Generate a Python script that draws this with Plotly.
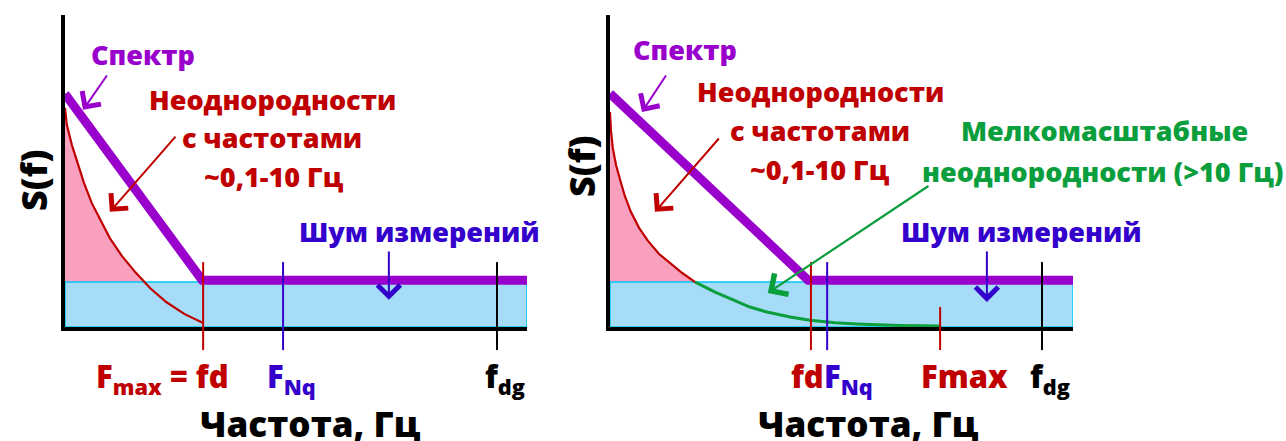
import plotly.graph_objects as go

W, H = 1286, 441

# --- data (arbitrary frequency / spectral-density units, both panels 0..10) ---
noise_level = 1.44

left_spec_f = [0, 2.97, 10]
left_spec_s = [7.47, 1.5, 1.5]
left_inhom_f = [0, 0.04, 0.15, 0.28, 0.41, 0.58, 0.76, 0.97, 1.23, 1.52, 1.84, 2.19, 2.58, 2.99]
left_inhom_s = [7.02, 6.47, 5.83, 5.19, 4.62, 3.97, 3.43, 2.85, 2.28, 1.76, 1.25, 0.80, 0.42, 0.13]
left_marks_f = [2.99, 4.72, 9.35]
left_marks_color = ["#C00000", "#3300CC", "#000000"]

right_spec_f = [0, 4.28, 10]
right_spec_s = [7.48, 1.5, 1.5]
right_inhom_f = [0, 0.02, 0.06, 0.13, 0.22, 0.32, 0.45, 0.63, 0.82, 1.06, 1.30, 1.56, 1.84]
right_inhom_s = [6.89, 6.31, 5.74, 5.19, 4.71, 4.20, 3.69, 3.17, 2.76, 2.34, 2.05, 1.73, 1.44]
right_small_f = [1.84, 2.27, 2.66, 3.02, 3.39, 3.89, 4.32, 4.86, 5.33, 6.26, 7.13]
right_small_s = [1.44, 1.12, 0.87, 0.64, 0.48, 0.32, 0.22, 0.14, 0.10, 0.05, 0.03]
right_marks_f = [4.34, 4.69, 9.33]
right_marks_color = ["#C00000", "#3300CC", "#000000"]
right_fmax_f = 7.13

PURPLE = "#9900CC"
RED = "#C00000"
BLUE = "#3300CC"
GREEN = "#0A9E3C"
PINK = "#F9A0BE"
LIGHTBLUE = "#A6DCF8"
CYAN = "#00C8F8"
FONT = "Open Sans"

fig = go.Figure()


def panel(xa, ya, inhom_f, inhom_s):
    # pink area under the inhomogeneity curve
    fig.add_trace(go.Scatter(x=inhom_f, y=inhom_s, mode="lines", fill="tozeroy",
                             fillcolor=PINK, line=dict(width=0), xaxis=xa, yaxis=ya,
                             hoverinfo="skip"))
    # measurement noise band
    fig.add_trace(go.Scatter(x=[0, 10, 10, 0, 0],
                             y=[0, 0, noise_level, noise_level, 0],
                             mode="lines", fill="toself", fillcolor=LIGHTBLUE,
                             line=dict(color=CYAN, width=1.5), xaxis=xa, yaxis=ya,
                             hoverinfo="skip"))
    fig.add_trace(go.Scatter(x=inhom_f, y=inhom_s, mode="lines",
                             line=dict(color=RED, width=2.2), xaxis=xa, yaxis=ya))


panel("x", "y", left_inhom_f, left_inhom_s)
panel("x2", "y2", right_inhom_f, right_inhom_s)

fig.add_trace(go.Scatter(x=right_small_f, y=right_small_s, mode="lines",
                         line=dict(color=GREEN, width=3), xaxis="x2", yaxis="y2"))
fig.add_trace(go.Scatter(x=left_spec_f, y=left_spec_s, mode="lines",
                         line=dict(color=PURPLE, width=9), xaxis="x", yaxis="y"))
fig.add_trace(go.Scatter(x=right_spec_f, y=right_spec_s, mode="lines",
                         line=dict(color=PURPLE, width=9), xaxis="x2", yaxis="y2"))

# frequency markers, extending below the axis
for f, c in zip(left_marks_f, left_marks_color):
    fig.add_shape(type="line", xref="x", yref="y domain", x0=f, x1=f, y0=-0.074, y1=0.208,
                  line=dict(color=c, width=2))
for f, c in zip(right_marks_f, right_marks_color):
    fig.add_shape(type="line", xref="x2", yref="y2 domain", x0=f, x1=f, y0=-0.074, y1=0.208,
                  line=dict(color=c, width=2))
fig.add_shape(type="line", xref="x2", yref="y2 domain", x0=right_fmax_f, x1=right_fmax_f,
              y0=-0.074, y1=0.064, line=dict(color=RED, width=2))


def arrow(xr, yr, tail, head, color, width=2):
    fig.add_annotation(x=head[0], y=head[1], ax=tail[0], ay=tail[1], xref=xr, yref=yr,
                       axref=xr, ayref=yr, text="", showarrow=True, arrowhead=4,
                       arrowsize=2.2, arrowwidth=width, arrowcolor=color, standoff=0)


arrow("x", "y", (0.93, 8.11), (0.39, 6.96), PURPLE)
arrow("x", "y", (2.42, 6.15), (0.97, 3.69), RED)
arrow("x", "y", (7.01, 2.47), (7.01, 0.87), BLUE)
arrow("x2", "y2", (1.23, 8.11), (0.69, 6.89), PURPLE)
arrow("x2", "y2", (2.38, 6.09), (0.97, 3.69), RED)
arrow("x2", "y2", (6.91, 4.55), (3.41, 1.09), GREEN, 2.2)
arrow("x2", "y2", (8.14, 2.47), (8.14, 0.80), BLUE)


def label(text, x, y, size, color, angle=0):
    fig.add_annotation(x=x / W, y=1 - y / H, xref="paper", yref="paper", text=text,
                       showarrow=False, xanchor="center", yanchor="middle", textangle=angle,
                       font=dict(family=FONT, size=size, color=color, weight=800))


# left panel texts
label("Спектр", 143, 54, 27, PURPLE)
label("Неоднородности", 272, 99, 27, RED)
label("с частотами", 272, 137, 27, RED)
label("~0,1-10 Гц", 274, 176, 27, RED)
label("Шум измерений", 419, 231, 27, BLUE)
label("S(f)", 33, 180, 36, "#000000", -90)
label("F<sub>max</sub> = fd", 162, 378, 31, RED)
label("F<sub>Nq</sub>", 291, 378, 31, BLUE)
label("f<sub>dg</sub>", 505, 378, 31, "#000000")
label("Частота, Гц", 310, 423, 35, "#000000")

# right panel texts
label("Спектр", 685, 50, 27, PURPLE)
label("Неоднородности", 820, 92, 27, RED)
label("с частотами", 820, 130, 27, RED)
label("~0,1-10 Гц", 820, 169, 27, RED)
label("Мелкомасштабные", 1104, 131, 27, GREEN)
label("неоднородности (>10 Гц)", 1103, 171, 27, GREEN)
label("Шум измерений", 1021, 231, 27, BLUE)
label("S(f)", 581, 166, 36, "#000000", -90)
label("fd", 807, 376, 31, RED)
label("F<sub>Nq</sub>", 848, 378, 31, BLUE)
label("Fmax", 964, 376, 31, RED)
label("f<sub>dg</sub>", 1050, 378, 31, "#000000")
label("Частота, Гц", 868, 423, 35, "#000000")

ax_style = dict(range=[0, 10], showline=True, linewidth=4, linecolor="#000000",
                showgrid=False, zeroline=False, showticklabels=False, ticks="",
                fixedrange=True)
ydom = [1 - 327 / H, 1 - 15 / H]
fig.update_layout(
    width=W, height=H, margin=dict(l=0, r=0, t=0, b=0),
    paper_bgcolor="white", plot_bgcolor="white", showlegend=False,
    xaxis=dict(domain=[65 / W, 527 / W], anchor="y", **ax_style),
    yaxis=dict(domain=ydom, anchor="x", **ax_style),
    xaxis2=dict(domain=[610 / W, 1073 / W], anchor="y2", **ax_style),
    yaxis2=dict(domain=ydom, anchor="x2", **ax_style),
)

fig.write_html("out.html", config={"displayModeBar": False},
               post_script="document.body.style.margin = '0';")
